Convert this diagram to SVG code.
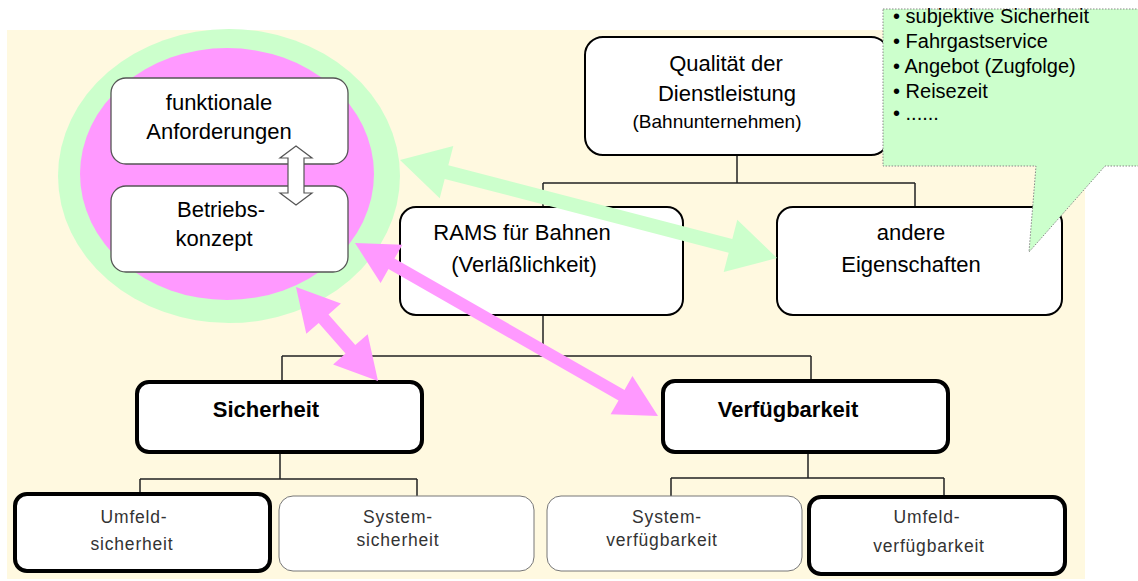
<svg xmlns="http://www.w3.org/2000/svg" width="1138" height="581" viewBox="0 0 1138 581">
<style>
.t{font-family:"Liberation Sans",Arial,sans-serif;font-size:22px;fill:#000;text-anchor:middle}
.b{font-weight:bold}
.s{font-family:"Liberation Sans",Arial,sans-serif;font-size:17.5px;fill:#333;text-anchor:middle;letter-spacing:0.8px}
.c{font-family:"Liberation Sans",Arial,sans-serif;font-size:20px;fill:#000}
.box{fill:#fff;stroke:#000;stroke-width:2}
.thick{fill:#fff;stroke:#000;stroke-width:4}
.thin{fill:#fff;stroke:#777;stroke-width:1}
.inner{fill:#fff;stroke:#555;stroke-width:1.3}
.ln{fill:none;stroke:#222;stroke-width:1.5}
</style>
<rect x="0" y="0" width="1138" height="581" fill="#fff"/>
<rect x="7" y="30" width="1078" height="549" fill="#fff9e0"/>
<g id="ring">
<ellipse cx="229" cy="176" rx="171" ry="147" fill="#ccffcc"/>
<ellipse cx="227" cy="174" rx="147" ry="126" fill="#ff99ff"/>
</g>
<g id="n-funktionale">
<rect class="inner" x="111" y="78" width="237" height="86" rx="15"/>
<text class="t" x="219" y="110">funktionale</text>
<text class="t" x="219" y="139">Anforderungen</text>
</g>
<g id="n-betrieb">
<rect class="inner" x="111" y="186" width="237" height="86" rx="15"/>
<text class="t" x="221" y="217">Betriebs-</text>
<text class="t" x="214" y="246">konzept</text>
</g>
<g id="white-arrow">
<polygon points="296,146 312,158 304,158 304,193 312,193 296,205 280,193 288,193 288,158 280,158" fill="#fff" stroke="#555" stroke-width="1.2"/>
</g>
<g id="connectors">
<path class="ln" d="M737,155 V183 M543,183 H915 M543,183 V207 M915,183 V207"/>
<path class="ln" d="M543,315 V356 M282,356 H811 M282,356 V381 M811,356 V381"/>
<path class="ln" d="M280,452 V479 M140,479 H417 M140,479 V494 M417,479 V496"/>
<path class="ln" d="M808,452 V478 M671,478 H944 M671,478 V496 M944,478 V497"/>
</g>
<g id="n-qualitaet">
<rect class="box" x="585" y="37" width="304" height="118" rx="18"/>
<text class="t" x="726" y="71">Qualität der</text>
<text class="t" x="727" y="101">Dienstleistung</text>
<text class="t" x="717" y="128" style="font-size:19px">(Bahnunternehmen)</text>
</g>
<g id="n-rams">
<rect class="box" x="400" y="207" width="283" height="108" rx="16"/>
<text class="t" x="522" y="240">RAMS für Bahnen</text>
<text class="t" x="524" y="272">(Verläßlichkeit)</text>
</g>
<g id="n-andere">
<rect class="box" x="777" y="207" width="285" height="108" rx="16"/>
<text class="t" x="911" y="240">andere</text>
<text class="t" x="911" y="272">Eigenschaften</text>
</g>
<g id="n-sicherheit">
<rect class="thick" x="137" y="382" width="285" height="70" rx="12"/>
<text class="t b" x="266" y="417">Sicherheit</text>
</g>
<g id="n-verfuegbarkeit">
<rect class="thick" x="663" y="381" width="285" height="71" rx="12"/>
<text class="t b" x="788" y="417">Verfügbarkeit</text>
</g>
<g id="n-umfeldsicherheit">
<rect class="thick" x="15" y="494" width="255" height="77" rx="12"/>
<text class="s" x="134" y="523">Umfeld-</text>
<text class="s" x="132" y="550">sicherheit</text>
</g>
<g id="n-systemsicherheit">
<rect class="thin" x="279" y="496" width="255" height="75" rx="14"/>
<text class="s" x="398" y="523">System-</text>
<text class="s" x="398" y="546">sicherheit</text>
</g>
<g id="n-systemverf">
<rect class="thin" x="547" y="496" width="255" height="75" rx="14"/>
<text class="s" x="667" y="523">System-</text>
<text class="s" x="662" y="546">verfügbarkeit</text>
</g>
<g id="n-umfeldverf">
<rect class="thick" x="809" y="497" width="256" height="77" rx="12"/>
<text class="s" x="927" y="523">Umfeld-</text>
<text class="s" x="929" y="552">verfügbarkeit</text>
</g>
<g id="callout">
<path d="M883,9 H1141 V166 H1105 L1029,252 L1036,166 H883 Z" fill="#ccffcc" stroke="#888" stroke-width="1" stroke-dasharray="1.5,1.5"/>
<text class="c" x="893" y="23">• subjektive Sicherheit</text>
<text class="c" x="893" y="48">• Fahrgastservice</text>
<text class="c" x="893" y="73">• Angebot (Zugfolge)</text>
<text class="c" x="893" y="98">• Reisezeit</text>
<text class="c" x="893" y="120">• ......</text>
</g>
<g id="arrows">
<polygon fill="#ccffcc" points="400,160 439.7,198.2 444.7,178.9 728.7,252.7 723.7,272 777,258 737.3,219.8 732.3,239.1 448.3,165.3 453.3,146"/>
<polygon fill="#ff99ff" points="355,243 380.6,282.9 388.5,269 618.5,400.4 610.6,414.3 658,416 632.4,376.1 624.5,390 394.5,258.6 402.4,244.7"/>
<polygon fill="#ff99ff" points="296,287 306.3,333.8 318.7,323 345.5,353.6 333.1,364.4 378,381 367.7,334.2 355.3,345 328.5,314.4 340.9,303.6"/>
</g>
</svg>
